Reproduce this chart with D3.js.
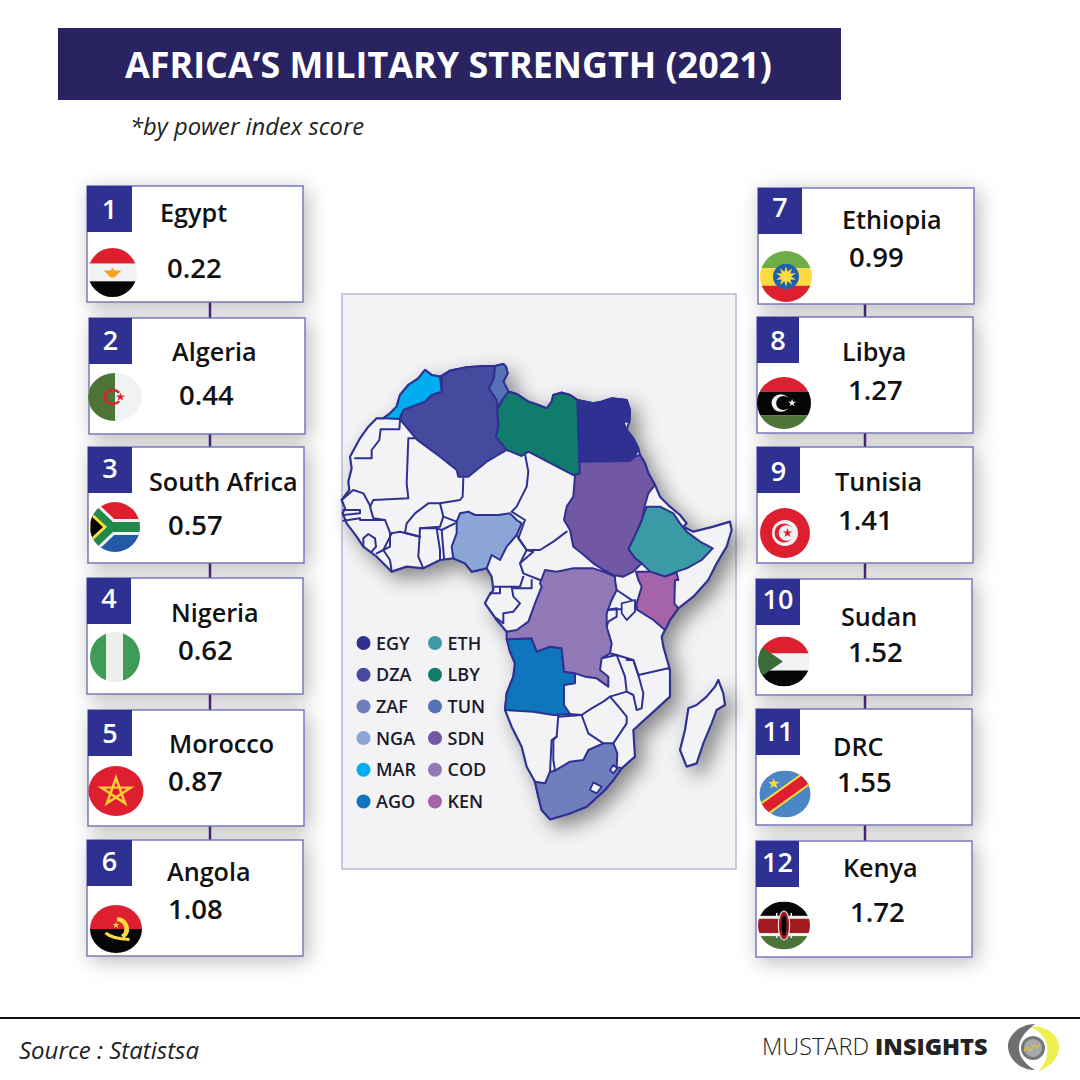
<!DOCTYPE html>
<html>
<head>
<meta charset="utf-8" />
<title>Africa's Military Strength (2021)</title>
<style>
  body { margin: 0; background: #fff; }
  svg { display: block; }
  text { font-family: "Open Sans", sans-serif; }
</style>
</head>
<body>
<script src="https://d3js.org/d3.v7.min.js"></script>
<script>
// ---- data
var ranks = [1, 2, 3, 4, 5, 6, 7, 8, 9, 10, 11, 12];
var countries = ["Egypt", "Algeria", "South Africa", "Nigeria", "Morocco", "Angola", "Ethiopia", "Libya", "Tunisia", "Sudan", "DRC", "Kenya"];
var scores = ["0.22", "0.44", "0.57", "0.62", "0.87", "1.08", "0.99", "1.27", "1.41", "1.52", "1.55", "1.72"];
var codes = ["EGY", "DZA", "ZAF", "NGA", "MAR", "AGO", "ETH", "LBY", "TUN", "SDN", "COD", "KEN"];
var codeColors = ["#2e3192", "#444a9e", "#6f7fbd", "#8ba5d6", "#00aeef", "#0f75bc", "#3a9aa5", "#0f7c6c", "#5572b6", "#7257a5", "#9079b6", "#a564a9"];

// card layout: x, y of box, badge width, name x/baseline, score x/baseline, flag cx/cy/rx/ry, badge baseline
var cardLayout = [
  [87, 186, 45, 160, 222, 167, 278, 112.5, 272.5, 24.5, 24.5, 219],
  [89, 318, 43, 172, 361, 179, 405, 115, 397, 27, 24, 350],
  [88, 447, 44, 149, 491, 168, 535, 115, 527, 25, 25, 478],
  [87, 578, 44, 171, 622, 178, 660, 115, 657, 25, 25, 608],
  [88, 710, 44, 169, 753, 168, 791, 116, 791, 27.5, 25, 743],
  [87, 840, 45, 167, 881, 168, 919, 116, 929, 26, 24, 871],
  [758, 188, 44, 842, 229, 849, 267, 786, 276.5, 26, 25.5, 217],
  [757, 317, 42, 842, 361, 848, 400, 784, 403, 27, 26, 350],
  [757, 447, 43, 835, 491, 838, 530, 785, 533, 25, 25, 481],
  [756, 579, 44, 841, 626, 848, 662, 784, 661.5, 26, 25, 609],
  [756, 709, 44, 833, 756, 837, 792, 785, 794, 25.5, 23.5, 741],
  [756, 841, 43, 843, 877, 850, 922, 784, 925.5, 26, 24, 872]
];

// map outlines, traced on a 1200 wide grid
var continent = [[130,205],[110,205],[85,230],[60,265],[30,320],[35,355],[25,395],[28,420],[5,450],[15,475],[8,490],[20,520],[50,560],[70,590],[110,620],[155,665],[200,650],[250,655],[300,630],[340,625],[375,640],[395,665],[440,655],[455,680],[460,720],[445,740],[435,760],[470,810],[500,845],[510,905],[525,940],[520,980],[500,1030],[495,1080],[515,1130],[545,1190],[560,1250],[585,1295],[595,1340],[605,1380],[630,1408],[690,1390],[740,1370],[795,1320],[820,1290],[845,1255],[885,1220],[880,1140],[935,1090],[990,1040],[990,960],[970,890],[965,860],[975,840],[990,810],[1015,775],[1060,740],[1105,690],[1130,640],[1160,590],[1175,540],[1170,515],[1120,530],[1060,545],[1030,530],[1040,520],[1020,495],[990,470],[960,440],[945,405],[925,370],[915,340],[900,315],[895,295],[880,265],[860,240],[868,215],[870,180],[860,150],[815,145],[785,155],[760,160],[712,150],[690,135],[665,128],[640,135],[635,155],[620,175],[595,165],[565,155],[530,132],[505,125],[490,95],[503,70],[498,50],[490,42],[465,48],[430,48],[380,52],[330,62],[300,80],[275,75],[255,60],[235,85],[205,105],[180,135],[170,170],[150,190]];
var madagascar = [[1135,990],[1150,1030],[1155,1065],[1130,1080],[1115,1120],[1090,1180],[1070,1240],[1040,1250],[1020,1200],[1035,1140],[1045,1075],[1070,1065],[1100,1040],[1125,1010]];

var shapeMAR = [[130,205],[150,190],[170,170],[180,135],[205,105],[235,85],[255,60],[275,75],[300,80],[305,125],[275,135],[255,155],[215,170],[190,180],[178,207]];
var shapeDZA = [[305,80],[330,62],[380,52],[430,48],[465,48],[462,85],[447,115],[470,150],[472,180],[475,230],[468,260],[500,300],[440,335],[385,380],[355,380],[350,360],[300,320],[230,268],[180,208],[190,180],[215,170],[255,155],[275,135],[305,125]];
var shapeTUN = [[465,48],[490,42],[498,50],[503,70],[490,95],[505,125],[490,145],[472,172],[470,150],[447,115],[462,85]];
var shapeLBY = [[505,125],[530,132],[565,155],[595,165],[620,175],[635,155],[640,135],[665,128],[690,135],[712,150],[715,250],[718,335],[720,370],[700,375],[565,305],[545,318],[500,300],[468,260],[475,230],[472,180],[490,145]];
var shapeEGY = [[712,150],[760,160],[785,155],[815,145],[860,150],[870,180],[868,215],[850,215],[860,240],[880,265],[895,295],[885,320],[870,333],[718,335],[715,250]];
var shapeSDN = [[718,335],[870,333],[885,320],[900,315],[915,340],[925,370],[945,405],[925,430],[915,465],[905,510],[890,545],[865,597],[885,625],[905,640],[880,665],[850,680],[820,675],[790,660],[760,640],[725,610],[700,590],[690,540],[672,510],[680,470],[700,440],[705,375],[720,370]];
var shapeETH = [[920,470],[960,470],[1000,490],[1020,520],[1040,545],[1080,575],[1118,595],[1085,630],[1040,655],[1010,665],[975,680],[930,665],[905,640],[885,625],[865,597],[890,545],[905,510]];
var shapeKEN = [[888,665],[930,665],[975,680],[1010,668],[1015,690],[1005,690],[1003,760],[1015,775],[990,810],[975,840],[940,810],[890,778],[890,760],[905,710],[895,690]];
var shapeCOD = [[615,660],[650,665],[700,655],[760,655],[790,665],[825,680],[825,690],[830,720],[815,750],[800,790],[800,830],[815,880],[810,910],[785,925],[780,960],[805,980],[805,1010],[770,985],[735,980],[705,970],[672,965],[665,895],[630,890],[590,905],[575,865],[500,868],[500,845],[530,840],[565,815],[585,760],[605,710],[600,700]];
var shapeAGO = [[500,868],[575,865],[590,905],[630,890],[665,895],[672,965],[705,970],[705,1000],[672,1005],[672,1065],[690,1092],[640,1095],[580,1085],[495,1080],[500,1030],[520,980],[525,940],[510,905]];
var shapeNGA = [[360,490],[385,485],[405,495],[440,495],[475,495],[510,490],[530,510],[545,520],[530,555],[500,590],[480,630],[455,615],[440,655],[395,665],[375,640],[340,625],[335,590],[350,550],[350,515]];
var shapeZAF = [[820,1180],[832,1210],[830,1250],[845,1255],[820,1290],[795,1320],[740,1370],[690,1390],[630,1408],[605,1380],[595,1340],[585,1295],[615,1300],[630,1265],[645,1262],[690,1235],[730,1230],[745,1200],[790,1180]];
var holes = [
  [[760,1297],[785,1310],[770,1330],[750,1320]],
  [[820,1245],[832,1255],[820,1270],[810,1260]]
];
var mapShapes = { MAR: shapeMAR, DZA: shapeDZA, TUN: shapeTUN, LBY: shapeLBY, EGY: shapeEGY, SDN: shapeSDN, ETH: shapeETH, KEN: shapeKEN, COD: shapeCOD, AGO: shapeAGO, NGA: shapeNGA, ZAF: shapeZAF };

var borderLines = [
  [[180,212],[178,238],[122,238],[118,270],[95,300],[95,325],[45,325]],
  [[225,265],[205,265],[200,400],[205,445],[100,450],[90,470],[100,505],[135,510],[150,548],[150,590],[130,600],[110,610]],
  [[5,450],[40,420],[70,430],[92,470]],
  [[10,480],[60,480],[60,490],[10,495]],
  [[10,512],[60,505],[60,510],[135,510]],
  [[70,590],[70,565],[85,552],[105,565],[108,590],[95,605]],
  [[370,385],[368,440],[360,450],[300,460],[265,460],[225,490],[200,520],[195,548],[240,560]],
  [[300,460],[310,500],[350,515]],
  [[310,500],[300,530],[240,535],[235,620],[250,655]],
  [[240,535],[290,535],[300,600],[300,630]],
  [[290,535],[305,540],[312,625]],
  [[305,540],[345,520]],
  [[155,550],[180,545],[240,560]],
  [[155,665],[150,630],[130,600],[155,550]],
  [[555,312],[565,365],[560,410],[530,470],[515,485],[555,510],[535,565],[560,600],[600,600],[640,575],[680,545]],
  [[540,640],[580,605],[560,600]],
  [[530,555],[560,600],[540,640],[550,670],[600,690],[610,690]],
  [[460,710],[540,710],[550,680]],
  [[450,730],[480,730],[480,710]],
  [[515,710],[520,740],[540,760],[520,785],[490,790],[490,820],[470,805]],
  [[575,690],[575,715],[520,715]],
  [[830,720],[890,760],[885,775],[800,780]],
  [[800,780],[830,775],[830,800],[805,815],[800,830]],
  [[810,910],[830,915],[880,930],[895,975],[985,955],[990,960]],
  [[785,925],[830,915],[855,980],[860,1025],[810,1040],[790,1055],[755,1075],[725,1095],[690,1092]],
  [[860,930],[880,930],[895,975],[910,1030],[905,1075],[890,1080],[880,1035],[860,1025]],
  [[810,1040],[840,1075],[860,1100],[860,1120],[820,1180]],
  [[725,1095],[745,1150],[790,1180]],
  [[640,1095],[655,1095],[650,1160],[635,1170],[630,1265]],
  [[655,1100],[725,1095]],
  [[650,1160],[640,1170],[640,1230],[645,1262]]
];
var lakeVictoria = [[845,760],[885,750],[885,785],[860,810],[845,790]];

// ---- page
var svg = d3.select("body").append("svg").attr("width", 1080).attr("height", 1080);
var defs = svg.append("defs");

function addShadow(id, dx, dy, blur, op) {
  var f = defs.append("filter").attr("id", id)
    .attr("x", "-30%").attr("y", "-30%").attr("width", "160%").attr("height", "160%");
  f.append("feDropShadow").attr("dx", dx).attr("dy", dy).attr("stdDeviation", blur)
    .attr("flood-color", "#000").attr("flood-opacity", op);
}
addShadow("cardShadow", 4, 4, 10, 0.28);
addShadow("mapShadow", 8, 8, 10, 0.45);
defs.append("clipPath").attr("id", "flagClip").append("circle").attr("r", 25);

// title
svg.append("rect").attr("x", 58).attr("y", 28).attr("width", 783).attr("height", 72).attr("fill", "#2a2361");
svg.append("text").attr("x", 125).attr("y", 78).attr("fill", "#fff")
  .attr("font-size", 35.9).attr("font-weight", 700).text("AFRICA\u2019S MILITARY STRENGTH (2021)");
svg.append("text").attr("x", 130).attr("y", 135).attr("fill", "#222")
  .attr("font-size", 23.8).attr("font-style", "italic").text("*by power index score");

// map panel
svg.append("rect").attr("x", 342).attr("y", 294).attr("width", 394).attr("height", 575)
  .attr("fill", "#f3f3f6").attr("stroke", "#b9b8d6").attr("stroke-width", 1.5);

var mapX = d3.scaleLinear().domain([0, 1200]).range([340, 740]);
var mapY = d3.scaleLinear().domain([0, 1440]).range([350, 830]);
var outline = d3.line().x(d => mapX(d[0])).y(d => mapY(d[1]));
var ring = pts => outline(pts) + "Z";
var ink = "#2e3192";

var mapG = svg.append("g").attr("stroke-linejoin", "round").attr("stroke-linecap", "round");
mapG.append("path").attr("d", ring(continent) + ring(madagascar))
  .attr("fill", "#f3f3f6").attr("stroke", ink).attr("stroke-width", 2.2).attr("filter", "url(#mapShadow)");
mapG.selectAll("path.border").data(borderLines).enter().append("path").attr("class", "border")
  .attr("d", outline).attr("fill", "none").attr("stroke", ink).attr("stroke-width", 2);
mapG.append("path").attr("d", ring(lakeVictoria)).attr("fill", "#f3f3f6").attr("stroke", ink).attr("stroke-width", 1.8);
mapG.selectAll("path.country").data(codes).enter().append("path").attr("class", "country")
  .attr("d", d => ring(mapShapes[d]))
  .attr("fill", (d, i) => codeColors[i])
  .attr("stroke", ink).attr("stroke-width", 2);
mapG.selectAll("path.hole").data(holes).enter().append("path").attr("class", "hole")
  .attr("d", ring).attr("fill", "#f3f3f6").attr("stroke", ink).attr("stroke-width", 1.8);

// legend, two columns in rank order
var legendX = d3.scalePoint().domain([0, 1]).range([363.5, 435]);
var legendY = d3.scalePoint().domain(d3.range(6)).range([643, 801.5]);
var legend = svg.selectAll("g.leg").data(codes).enter().append("g").attr("class", "leg")
  .attr("transform", (d, i) => "translate(" + legendX(i < 6 ? 0 : 1) + "," + legendY(i % 6) + ")");
legend.append("circle").attr("r", 7).attr("fill", (d, i) => codeColors[i]);
legend.append("text").attr("x", 12.5).attr("y", 6.5).attr("font-size", 18).attr("font-weight", 550)
  .attr("fill", "#1a1a2a").text(d => d);

// connectors between cards
var connectorX = [210, 865];
[[0, 1, 2, 3, 4, 5], [6, 7, 8, 9, 10, 11]].forEach(function (col, c) {
  col.slice(1).forEach(function (k) {
    svg.append("line").attr("x1", connectorX[c]).attr("x2", connectorX[c])
      .attr("y1", cardLayout[k - 1][1] + 116).attr("y2", cardLayout[k][1])
      .attr("stroke", "#4f2a82").attr("stroke-width", 2.5);
  });
});

// cards
var cards = svg.selectAll("g.card").data(ranks).enter().append("g").attr("class", "card");
cards.append("rect")
  .attr("x", (d, i) => cardLayout[i][0]).attr("y", (d, i) => cardLayout[i][1])
  .attr("width", 216).attr("height", 116)
  .attr("fill", "#fff").attr("stroke", "#6f6fb8").attr("stroke-width", 1.4)
  .attr("filter", "url(#cardShadow)");
cards.append("rect")
  .attr("x", (d, i) => cardLayout[i][0]).attr("y", (d, i) => cardLayout[i][1])
  .attr("width", (d, i) => cardLayout[i][2]).attr("height", 46).attr("fill", "#2e3192");
cards.append("text")
  .attr("x", (d, i) => cardLayout[i][0] + cardLayout[i][2] / 2).attr("y", (d, i) => cardLayout[i][11])
  .attr("text-anchor", "middle").attr("fill", "#fff").attr("font-size", 27).attr("font-weight", 550).text(d => d);
cards.append("text").attr("x", (d, i) => cardLayout[i][3]).attr("y", (d, i) => cardLayout[i][4])
  .attr("fill", "#111").attr("font-size", 25.2).attr("font-weight", 550).text((d, i) => countries[i]);
cards.append("text").attr("x", (d, i) => cardLayout[i][5]).attr("y", (d, i) => cardLayout[i][6])
  .attr("fill", "#111").attr("font-size", 27.5).attr("font-weight", 550).text((d, i) => scores[i]);

// ---- flags, each drawn in a circle of radius 25
var flagRed = "#dd1f2f", flagBlack = "#060606", flagWhite = "#f1f2f4", flagGreen = "#4e7437", flagYellow = "#fddb3f";

function bands(g, list) {
  list.forEach(function (b) {
    g.append("rect").attr("x", -26).attr("width", 52).attr("y", b[0]).attr("height", b[1] - b[0]).attr("fill", b[2]);
  });
}
function star(g, x, y, r, color, points, inner) {
  var n = points || 5;
  var pts = d3.range(n * 2).map(i => [i * Math.PI / n, i % 2 ? r * (inner || 0.4) : r]);
  g.append("path").attr("d", d3.lineRadial().curve(d3.curveLinearClosed)(pts))
    .attr("transform", "translate(" + x + "," + y + ")").attr("fill", color);
}
function crescent(g, x, y, r, off, r2, color, bg) {
  g.append("circle").attr("cx", x).attr("cy", y).attr("r", r).attr("fill", color);
  g.append("circle").attr("cx", x + off).attr("cy", y).attr("r", r2).attr("fill", bg);
}

var flags = {
  EGY: function (g) {
    bands(g, [[-25, -9, flagRed], [-9, 9, flagWhite], [9, 25, flagBlack]]);
    g.append("path").attr("d", "M-9,-2 L-2,-2 L0,-5 L2,-2 L9,-2 L4,3 L2,5 L-2,5 L-4,3Z").attr("fill", "#f7a21b");
  },
  DZA: function (g) {
    bands(g, [[-25, 25, flagWhite]]);
    g.append("rect").attr("x", -26).attr("y", -25).attr("width", 26).attr("height", 50).attr("fill", flagGreen);
    g.append("path").attr("d", d3.arc()({ innerRadius: 6, outerRadius: 8.5, startAngle: 2.2, endAngle: 7.2 }))
      .attr("transform", "translate(-2,0)").attr("fill", flagRed);
    star(g, 5, 0, 4.5, flagRed);
  },
  ZAF: function (g) {
    bands(g, [[-25, 0, flagRed], [0, 25, "#2259a8"]]);
    var y = "M-26,-21 L-4,0 L-26,21 M-4,0 L26,0";
    g.append("path").attr("d", y).attr("fill", "none").attr("stroke", flagWhite).attr("stroke-width", 16);
    g.append("path").attr("d", y).attr("fill", "none").attr("stroke", "#1f8a4c").attr("stroke-width", 10);
    g.append("path").attr("d", "M-26,-15 L-10,0 L-26,15Z").attr("fill", flagBlack).attr("stroke", flagYellow).attr("stroke-width", 3);
  },
  NGA: function (g) {
    bands(g, [[-25, 25, "#ecf0ea"]]);
    g.append("rect").attr("x", -26).attr("y", -25).attr("width", 17).attr("height", 50).attr("fill", "#3f9c58");
    g.append("rect").attr("x", 8).attr("y", -25).attr("width", 18).attr("height", 50).attr("fill", "#3f9c58");
  },
  MAR: function (g) {
    bands(g, [[-25, 25, flagRed]]);
    var pts = [0, 2, 4, 1, 3].map(i => [i * 2 * Math.PI / 5, 14]);
    g.append("path").attr("d", d3.lineRadial().curve(d3.curveLinearClosed)(pts))
      .attr("transform", "translate(0,1)").attr("fill", "none").attr("stroke", "#fdc93a").attr("stroke-width", 2.4);
  },
  AGO: function (g) {
    bands(g, [[-25, 0, flagRed], [0, 25, flagBlack]]);
    g.append("path").attr("d", d3.arc()({ innerRadius: 8, outerRadius: 12.5, startAngle: 0.1, endAngle: 2.5 })).attr("fill", flagYellow);
    g.append("path").attr("d", "M-10,4 Q-4,10 13,11").attr("fill", "none").attr("stroke", flagYellow).attr("stroke-width", 3.2);
    star(g, 0, -4, 3.5, flagYellow);
  },
  ETH: function (g) {
    bands(g, [[-25, -8, "#6fae47"], [-8, 9, flagYellow], [9, 25, flagRed]]);
    g.append("circle").attr("r", 12.5).attr("fill", "#1f61ad");
    star(g, 0, 0, 10, flagYellow, 10, 0.5);
  },
  LBY: function (g) {
    bands(g, [[-25, -11, flagRed], [-11, 12, flagBlack], [12, 25, flagGreen]]);
    crescent(g, -3, 0, 8.5, 2.5, 6.8, flagWhite, flagBlack);
    star(g, 7.5, 0, 3.8, flagWhite);
  },
  TUN: function (g) {
    bands(g, [[-25, 25, flagRed]]);
    g.append("circle").attr("r", 13).attr("fill", flagWhite);
    crescent(g, -1, 0, 9.5, 2.5, 7.8, flagRed, flagWhite);
    star(g, 2.5, 0, 5, flagRed);
  },
  SDN: function (g) {
    bands(g, [[-25, -8, flagRed], [-8, 9, flagWhite], [9, 25, flagBlack]]);
    g.append("path").attr("d", "M-26,-18 L-1,0 L-26,18Z").attr("fill", "#3c6b3a");
  },
  COD: function (g) {
    bands(g, [[-25, 25, "#4d86c6"]]);
    var d = g.append("g").attr("transform", "rotate(-38)");
    d.append("rect").attr("x", -32).attr("width", 64).attr("y", -7.5).attr("height", 15).attr("fill", flagYellow);
    d.append("rect").attr("x", -32).attr("width", 64).attr("y", -5.5).attr("height", 11).attr("fill", flagRed);
    star(g, -11, -11, 6, flagYellow);
  },
  KEN: function (g) {
    bands(g, [[-25, -10, flagBlack], [-10, -7, flagWhite], [-7, 8, "#a11c22"], [8, 11, flagWhite], [11, 25, flagGreen]]);
    g.append("path").attr("d", "M-7,-13 L-7,-8 M7,-13 L7,-8 M-7,8 L-7,13 M7,8 L7,13").attr("stroke", flagWhite).attr("stroke-width", 1.5);
    g.append("ellipse").attr("rx", 5.5).attr("ry", 15).attr("fill", "#a11c22").attr("stroke", flagWhite).attr("stroke-width", 1);
    g.append("ellipse").attr("rx", 2.5).attr("ry", 11).attr("fill", flagBlack);
  }
};

cards.append("g")
  .attr("transform", (d, i) => "translate(" + cardLayout[i][7] + "," + cardLayout[i][8] + ") scale(" + cardLayout[i][9] / 25 + "," + cardLayout[i][10] / 25 + ")")
  .append("g").attr("clip-path", "url(#flagClip)")
  .each(function (d, i) { flags[codes[i]](d3.select(this)); });

// ---- footer
svg.append("line").attr("x1", 0).attr("x2", 1080).attr("y1", 1018).attr("y2", 1018).attr("stroke", "#111").attr("stroke-width", 2);
svg.append("text").attr("x", 19).attr("y", 1059).attr("font-size", 24).attr("font-style", "italic").attr("fill", "#222").text("Source : Statistsa");
var brand = svg.append("text").attr("x", 762).attr("y", 1055).attr("font-size", 23.5).attr("fill", "#222");
brand.append("tspan").attr("font-weight", 300).text("MUSTARD ");
brand.append("tspan").attr("font-weight", 800).text("INSIGHTS");

var logo = svg.append("g").attr("transform", "translate(1033,1048)");
logo.append("path").attr("d", "M-2,-21 C10,-24 27,-14 26,0 C25,12 15,20 6,23 C14,14 16,4 13,-6 C10,-14 4,-18 -2,-21Z").attr("fill", "#eef04f");
logo.append("path").attr("d", "M2,-24 C-14,-24 -25,-12 -25,-2 C-25,10 -14,22 2,22 C-8,16 -15,8 -14,-2 C-13,-10 -8,-16 2,-24Z").attr("fill", "#6f6f71");
logo.append("circle").attr("r", 12).attr("fill", "#77777a");
logo.append("circle").attr("r", 9).attr("fill", "#a9a9ab");
logo.append("path").attr("d", "M-9,3 L-5,-1 L-3,3 L1,-3 L4,0 L7,-5").attr("fill", "none").attr("stroke", "#d8c52c").attr("stroke-width", 1.3);
</script>
</body>
</html>
